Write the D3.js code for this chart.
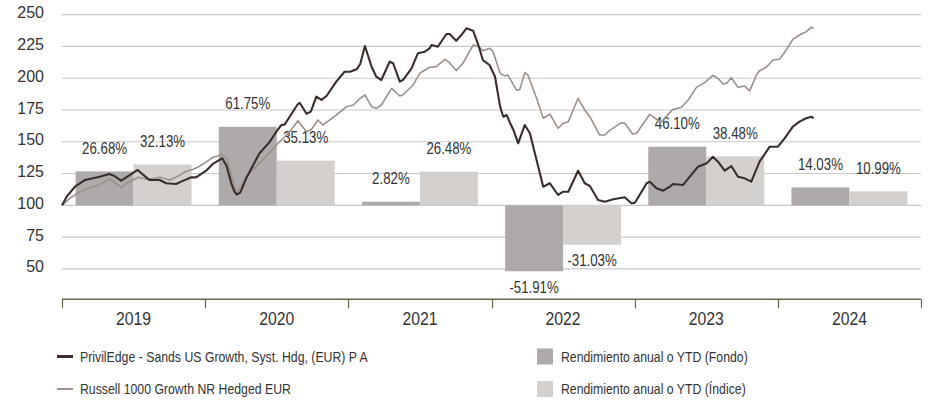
<!DOCTYPE html>
<html>
<head>
<meta charset="utf-8">
<script src="https://cdn.jsdelivr.net/npm/d3@7"></script>
<style>
  html, body { margin: 0; padding: 0; background: #fff; }
  svg { display: block; }
  text { font-family: "Liberation Sans", Arial, sans-serif; }
</style>
</head>
<body>
<svg id="chart" width="930" height="400"></svg>
<script>
// ---------- DATA ----------
const years = ["2019", "2020", "2021", "2022", "2023", "2024"];
const fundReturns = [26.68, 61.75, 2.82, -51.91, 46.10, 14.03];
const indexReturns = [32.13, 35.13, 26.48, -31.03, 38.48, 10.99];
const yTicks = [50, 75, 100, 125, 150, 175, 200, 225, 250];
const legendLabels = [
  "PrivilEdge - Sands US Growth, Syst. Hdg, (EUR) P A",
  "Russell 1000 Growth NR Hedged EUR",
  "Rendimiento anual o YTD (Fondo)",
  "Rendimiento anual o YTD (Índice)"
];

const fundLine = [
  ["2019-01-01",100],["2019-01-13",106.8],["2019-02-03",114.6],["2019-03-01",119.9],
  ["2019-03-21",121.2],["2019-04-07",122.5],["2019-05-02",124.6],["2019-05-15",123],
  ["2019-06-01",119.4],["2019-06-14",122],["2019-07-13",127.8],["2019-08-04",122],
  ["2019-08-12",119.9],["2019-09-07",119.9],["2019-09-24",117.3],["2019-10-19",116.8],
  ["2019-11-01",118.6],["2019-11-27",122],["2019-12-09",122],["2020-01-05",127.5],
  ["2020-01-22",132.8],["2020-02-07",135.8],["2020-02-14",137],["2020-02-25",131],
  ["2020-03-08",117.3],["2020-03-16",110.7],["2020-03-22",108.5],["2020-03-31",110],
  ["2020-04-15",121.2],["2020-05-19",141],["2020-06-13",149.5],["2020-07-01",157.9],
  ["2020-07-14",163.2],["2020-07-22",163.5],["2020-08-04",169.7],["2020-08-25",179.7],
  ["2020-08-30",180.5],["2020-09-16",172],["2020-09-27",173.7],["2020-10-11",185.5],
  ["2020-10-24",182.9],["2020-11-06",186],["2020-12-01",197.3],["2020-12-22",205.1],
  ["2021-01-05",205.1],["2021-01-22",207],["2021-01-31",211.2],["2021-02-12",225.4],
  ["2021-03-01",209],["2021-03-13",201.2],["2021-03-26",198.6],["2021-04-16",213],
  ["2021-04-25",211.8],["2021-05-12",197.3],["2021-05-20",198.6],["2021-06-11",207.8],
  ["2021-06-27",219.6],["2021-07-15",220.9],["2021-07-27",223.5],["2021-08-01",226.1],
  ["2021-08-17",224.8],["2021-09-08",234.8],["2021-09-16",234.8],["2021-10-03",229.5],
  ["2021-10-16",234],["2021-10-29",239.3],["2021-11-15",237.4],["2021-11-27",227.5],
  ["2021-12-10",214.3],["2021-12-27",210.4],["2022-01-10",201.2],["2022-01-23",177.6],
  ["2022-01-31",169.7],["2022-02-09",171],["2022-02-17",165],["2022-02-26",159.3],
  ["2022-03-10",148.8],["2022-03-27",163.2],["2022-04-09",156.7],["2022-04-26",135.6],
  ["2022-05-13",114.6],["2022-05-30",117.3],["2022-06-20",108.1],["2022-07-03",110.7],
  ["2022-07-16",110.7],["2022-08-10",127.2],["2022-08-27",117.3],["2022-09-09",115.2],
  ["2022-09-30",104.2],["2022-10-17",102.8],["2022-11-08",104.7],["2022-12-07",106.3],
  ["2022-12-24",101.6],["2023-01-02",102],["2023-02-01",117.3],["2023-02-09",118.6],
  ["2023-02-26",113.4],["2023-03-15",111.5],["2023-04-01",114.6],["2023-04-09",116.8],
  ["2023-05-05",116],["2023-05-22",122.5],["2023-06-12",130.4],["2023-07-04",133],
  ["2023-07-20",138.2],["2023-08-02",134.3],["2023-08-19",127.2],["2023-09-05",130.9],
  ["2023-09-22",122.5],["2023-10-09",121.2],["2023-10-26",118.6],["2023-11-16",134.3],
  ["2023-12-12",146.1],["2024-01-02",146.1],["2024-01-19",152.7],["2024-02-09",161.9],
  ["2024-02-26",165.8],["2024-03-14",168.5],["2024-03-27",169.7],["2024-04-02",168.5]
];

const indexLine = [
  ["2019-01-01",100],["2019-01-21",105.5],["2019-02-16",110.7],["2019-03-09",113.4],
  ["2019-03-30",115.2],["2019-04-25",119.4],["2019-05-03",120.5],["2019-06-02",114.2],
  ["2019-06-15",117.3],["2019-07-15",122],["2019-08-05",120.5],["2019-08-26",121.2],
  ["2019-09-08",122],["2019-10-03",119.9],["2019-10-25",123],["2019-11-11",126.4],
  ["2019-12-02",128.3],["2019-12-19",130.9],["2020-01-05",134.3],["2020-01-22",137.8],
  ["2020-02-03",138.8],["2020-02-12",140.5],["2020-02-25",137],["2020-03-08",124],
  ["2020-03-20",110],["2020-03-30",113],["2020-04-12",121],["2020-04-27",126.4],
  ["2020-06-13",141],["2020-07-01",147.4],["2020-08-04",157.9],["2020-08-25",166.6],
  ["2020-09-16",157.9],["2020-09-29",159.8],["2020-10-15",167.1],["2020-10-28",163.2],
  ["2020-12-01",171],["2020-12-27",177.6],["2021-01-14",178.9],["2021-01-31",184.2],
  ["2021-02-12",186.8],["2021-03-01",177.6],["2021-03-13",176.3],["2021-03-26",178.9],
  ["2021-04-21",192],["2021-05-12",186],["2021-05-20",186.8],["2021-06-15",194.7],
  ["2021-07-02",203.9],["2021-07-27",208.6],["2021-08-13",209.1],["2021-09-04",214.9],
  ["2021-09-16",212.2],["2021-10-03",205.9],["2021-10-20",211.8],["2021-11-15",226.1],
  ["2021-11-27",225.4],["2021-12-10",221.7],["2021-12-27",223.5],["2022-01-05",220.9],
  ["2022-01-23",203.9],["2022-02-04",201.7],["2022-02-12",202.5],["2022-03-06",190.6],
  ["2022-03-14",191],["2022-03-27",204.4],["2022-04-04",202.5],["2022-04-26",184.2],
  ["2022-05-13",168.5],["2022-05-30",171.8],["2022-06-20",160.6],["2022-07-03",164.5],
  ["2022-07-16",165.8],["2022-08-10",184.2],["2022-08-27",175],["2022-09-09",169.7],
  ["2022-10-04",155.3],["2022-10-17",155.3],["2022-10-29",158.7],["2022-11-28",165],
  ["2022-12-07",164.5],["2022-12-27",156.1],["2023-01-06",156.7],["2023-02-09",171.6],
  ["2023-03-01",167.1],["2023-03-10",165.5],["2023-04-09",175.5],["2023-05-01",177.1],
  ["2023-05-18",182.8],["2023-06-08",192.8],["2023-06-29",196.5],["2023-07-20",202.3],
  ["2023-08-02",199.9],["2023-08-15",195.5],["2023-08-24",196],["2023-09-05",200.4],
  ["2023-09-22",192.8],["2023-10-09",193.9],["2023-10-22",190],["2023-11-08",202.5],
  ["2023-11-16",205.9],["2023-12-03",208.6],["2023-12-20",214.3],["2024-01-06",214.9],
  ["2024-01-23",222.2],["2024-02-09",230.6],["2024-02-26",234],["2024-03-14",236.6],
  ["2024-03-27",240.1],["2024-04-02",239.3]
];

// ---------- STYLE ----------
const C = {
  grid: "#c8c8c8", axis: "#66664f", text: "#333333",
  fundBar: "#aeaaa9", indexBar: "#d4d0cd",
  fundLine: "#3a2e2c", indexLine: "#9c918b"
};
const L = { left: 62, right: 921, top: 14.7, axisY: 299.3 };
const NARROW = 0.83; // horizontal condensing of the label / legend typeface

const svg = d3.select("#chart");
const parse = d3.timeParse("%Y-%m-%d");

const y = d3.scaleLinear().domain([26, 250]).range([L.axisY, L.top]);
const xTime = d3.scaleTime()
  .domain([parse("2019-01-01"), parse("2025-01-01")])
  .range([L.left, L.right]);
const x0 = d3.scaleBand().domain(years).range([L.left, L.right])
  .paddingInner(0.19).paddingOuter(0.095);
const x1 = d3.scaleBand().domain(["fund", "index"]).range([0, x0.bandwidth()]);

// condensed text helper (keeps real text, squeezes horizontally)
function narrowText(sel, x, yy, str, size, anchor, squeeze) {
  return sel.append("text")
    .attr("transform", `translate(${x},${yy}) scale(${squeeze || NARROW},1)`)
    .attr("text-anchor", anchor || "start")
    .attr("font-size", size).attr("fill", C.text)
    .text(str);
}

// gridlines
svg.append("g").selectAll("line").data(yTicks).join("line")
  .attr("x1", L.left).attr("x2", L.right)
  .attr("y1", d => y(d)).attr("y2", d => y(d))
  .attr("stroke", C.grid).attr("stroke-width", 1.2);

// y labels
svg.append("g").selectAll("text").data(yTicks).join("text")
  .attr("x", 44).attr("y", d => y(d) - 2).attr("dy", "0.35em")
  .attr("text-anchor", "end").attr("font-size", 16).attr("fill", C.text)
  .text(d => d);

// bars
const barData = years.map((yr, i) => ({ yr, fund: fundReturns[i], index: indexReturns[i] }));
const groups = svg.append("g").selectAll("g").data(barData).join("g")
  .attr("transform", d => `translate(${x0(d.yr)},0)`);
const series = [["fund", C.fundBar], ["index", C.indexBar]];
series.forEach(([k, col]) => {
  groups.append("rect")
    .attr("x", x1(k)).attr("width", x1.bandwidth())
    .attr("y", d => y(Math.max(100, 100 + d[k])))
    .attr("height", d => Math.abs(y(100) - y(100 + d[k])))
    .attr("fill", col);
});
// value labels
const labelLayer = svg.append("g");
barData.forEach(d => {
  series.forEach(([k]) => {
    const v = d[k];
    const lx = x0(d.yr) + x1(k) + x1.bandwidth() / 2;
    const ly = v >= 0 ? y(100 + v) - 17.5 : y(100 + v) + 21.5;
    narrowText(labelLayer, lx, ly, v.toFixed(2) + "%", 16, "middle");
  });
});

// lines
const line = d3.line().x(d => xTime(parse(d[0]))).y(d => y(d[1]));
svg.append("path").datum(indexLine).attr("d", line)
  .attr("fill", "none").attr("stroke", C.indexLine).attr("stroke-width", 1.6)
  .attr("stroke-linejoin", "round");
svg.append("path").datum(fundLine).attr("d", line)
  .attr("fill", "none").attr("stroke", C.fundLine).attr("stroke-width", 2.1)
  .attr("stroke-linejoin", "round");

// x axis
const xAxis = svg.append("g");
xAxis.append("line").attr("x1", L.left).attr("x2", L.right)
  .attr("y1", L.axisY).attr("y2", L.axisY)
  .attr("stroke", C.axis).attr("stroke-width", 1.5);
const tickDates = d3.range(2019, 2026).map(v => parse(v + "-01-01"));
xAxis.selectAll("line.t").data(tickDates).join("line").attr("class", "t")
  .attr("x1", d => Math.round(xTime(d)) + 0.5).attr("x2", d => Math.round(xTime(d)) + 0.5)
  .attr("y1", L.axisY).attr("y2", L.axisY + 9)
  .attr("stroke", C.axis).attr("stroke-width", 1.2);
years.forEach(yr => {
  narrowText(xAxis, x0(yr) + x0.bandwidth() / 2, 324.5, yr, 17.5, "middle", 0.9);
});

// legend
const lg = svg.append("g");
const rows = [356.5, 389];
lg.append("line").attr("x1", 57).attr("x2", 73).attr("y1", rows[0]).attr("y2", rows[0])
  .attr("stroke", C.fundLine).attr("stroke-width", 3);
lg.append("line").attr("x1", 57).attr("x2", 73).attr("y1", rows[1]).attr("y2", rows[1])
  .attr("stroke", C.indexLine).attr("stroke-width", 2);
lg.append("rect").attr("x", 537).attr("y", rows[0] - 8).attr("width", 16).attr("height", 16)
  .attr("fill", C.fundBar);
lg.append("rect").attr("x", 537).attr("y", rows[1] - 8).attr("width", 16).attr("height", 16)
  .attr("fill", C.indexBar);
[[80, rows[0], 0], [80, rows[1], 1], [561, rows[0], 2], [561, rows[1], 3]].forEach(([tx, ty, i]) => {
  narrowText(lg, tx, ty + 5.3, legendLabels[i], 14.8, "start");
});
</script>
</body>
</html>
